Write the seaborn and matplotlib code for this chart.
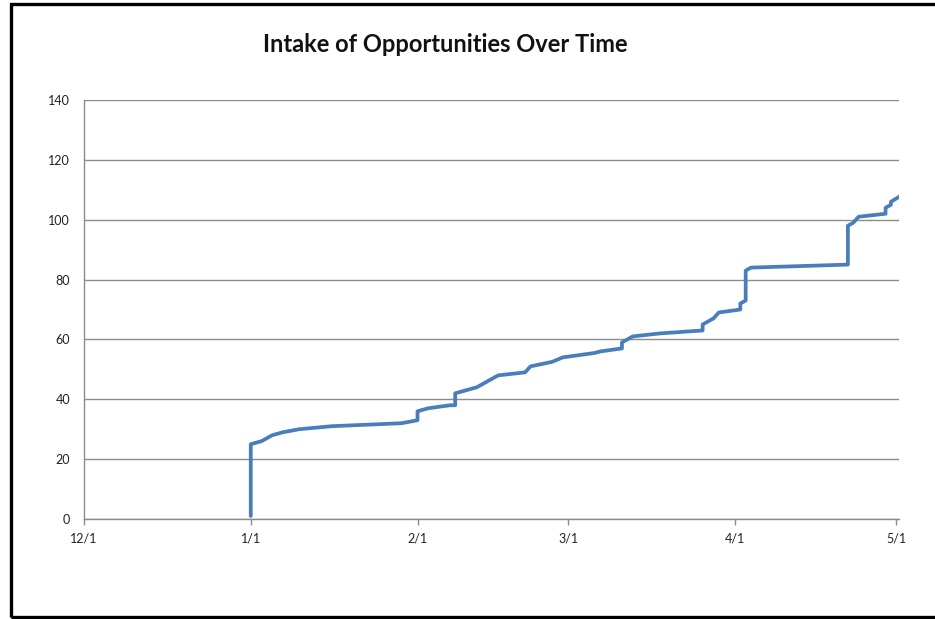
import matplotlib
matplotlib.use("Agg")
import matplotlib.pyplot as plt
import matplotlib.dates as mdates
from matplotlib.patches import Rectangle
import pandas as pd
import seaborn as sns

# Cumulative count of opportunities received, by date
dates = [
    "2011-01-01", "2011-01-01", "2011-01-03", "2011-01-04", "2011-01-05",
    "2011-01-07", "2011-01-10", "2011-01-16", "2011-01-29", "2011-02-01",
    "2011-02-01", "2011-02-03", "2011-02-07", "2011-02-08", "2011-02-08",
    "2011-02-12", "2011-02-13", "2011-02-15", "2011-02-16", "2011-02-21",
    "2011-02-22", "2011-02-26", "2011-02-28", "2011-03-06", "2011-03-07",
    "2011-03-11", "2011-03-11", "2011-03-13", "2011-03-18", "2011-03-26",
    "2011-03-26", "2011-03-28", "2011-03-29", "2011-04-02", "2011-04-02",
    "2011-04-03", "2011-04-03", "2011-04-04", "2011-04-22", "2011-04-22",
    "2011-04-23", "2011-04-24", "2011-04-29", "2011-04-29", "2011-04-30",
    "2011-04-30", "2011-05-02",
]
counts = [
    1, 25, 26, 27, 28,
    29, 30, 31, 32, 33,
    36, 37, 38, 38, 42,
    44, 45, 47, 48, 49,
    51, 52.5, 54, 55.5, 56,
    57, 59, 61, 62, 63,
    65, 67, 69, 70, 72,
    73, 83, 84, 85, 98,
    99, 101, 102, 104, 105,
    106, 108.2,
]

x_start = "2010-12-01"
x_end = "2011-05-01 12:00"
y_ticks = [0, 20, 40, 60, 80, 100, 120, 140]
title = "Intake of Opportunities Over Time"

df = pd.DataFrame({"date": pd.to_datetime(dates), "count": counts})

sns.set_style("white")
plt.rcParams["font.family"] = ["Lato", "DejaVu Sans"]

W, H = 935, 619
fig = plt.figure(figsize=(W / 100, H / 100), dpi=100)
ax = fig.add_axes([84 / W, 1 - 519 / H, (899 - 84) / W, (519 - 100) / H])

grid_c = "#8c8c8c"
sns.lineplot(data=df, x="date", y="count", estimator=None, sort=False,
             color="#4a7ebb", linewidth=2.7, ax=ax)

ax.set_xlim(pd.Timestamp(x_start), pd.Timestamp(x_end))
ax.set_ylim(0, 140)
ax.set_yticks(y_ticks)
ax.xaxis.set_major_locator(mdates.MonthLocator())
ax.xaxis.set_major_formatter(mdates.DateFormatter("%-m/%-d"))

ax.yaxis.grid(True, color=grid_c, linewidth=1.0)
ax.xaxis.grid(False)
ax.set_axisbelow(True)
for side in ("top", "right"):
    ax.spines[side].set_visible(False)
for side in ("left", "bottom"):
    ax.spines[side].set_color(grid_c)
    ax.spines[side].set_linewidth(1.0)

ax.tick_params(axis="both", which="major", direction="out", length=4,
               width=1.0, color=grid_c, labelsize=9, labelcolor="#222222")
ax.tick_params(axis="y", pad=6)
ax.tick_params(axis="x", pad=6, bottom=True)
ax.set_xlabel("")
ax.set_ylabel("")

fig.text(445 / W, 1 - 45 / H, title, ha="center", va="center",
         fontsize=17, fontweight="bold", color="#111111")

# Outer frame around the chart area
fig.patches.append(Rectangle((10.5 / W, 1 - 616.5 / H), 1.02, (613 / H),
                             transform=fig.transFigure, fill=False,
                             edgecolor="black", linewidth=2.4, clip_on=False))

fig.savefig("out.png", dpi=100)
